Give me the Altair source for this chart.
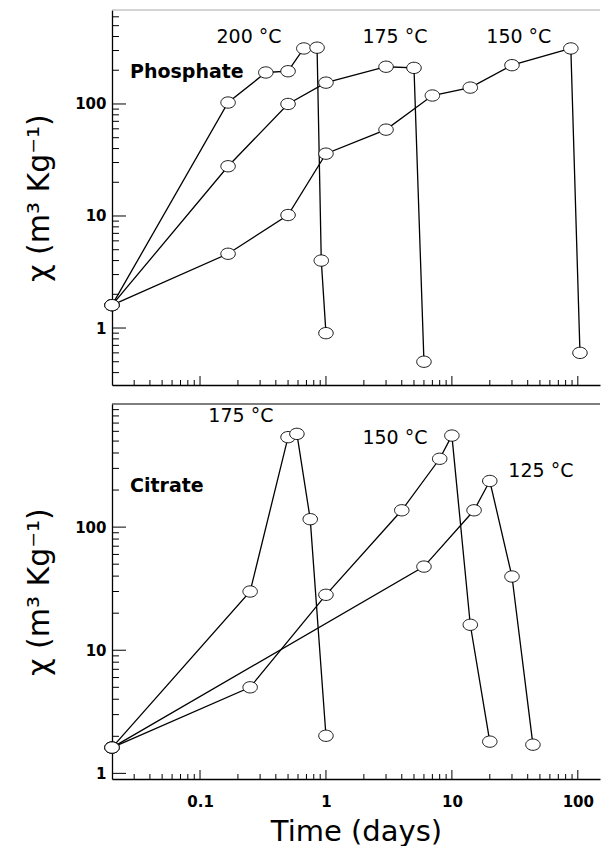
import altair as alt
import pandas as pd

# ---------------- data ----------------
# Phosphate panel
p200_t = [0.02, 0.167, 0.333, 0.5, 0.667, 0.85, 0.918, 1.0]
p200_v = [1.6, 103, 191, 196, 313, 318, 4.0, 0.90]
p175_t = [0.02, 0.167, 0.5, 1.0, 3.0, 5.0, 6.0]
p175_v = [1.6, 27.8, 100, 155, 215, 210, 0.50]
p150_t = [0.02, 0.167, 0.5, 1.0, 3.0, 7.0, 14.0, 30.0, 88.0, 104.0]
p150_v = [1.6, 4.6, 10.2, 36, 59, 119, 140, 222, 313, 0.60]

# Citrate panel
c175_t = [0.02, 0.25, 0.5, 0.588, 0.75, 1.0]
c175_v = [1.62, 30, 538, 572, 116, 2.02]
c150_t = [0.02, 0.25, 1.0, 4.0, 8.0, 10.0, 14.0, 20.0]
c150_v = [1.62, 5.0, 28.2, 137, 359, 554, 16.1, 1.81]
c125_t = [0.02, 6.0, 15.0, 20.0, 30.0, 44.0]
c125_v = [1.62, 47.8, 137, 237, 39.7, 1.71]

# annotations
p_ann_text = ["200 °C", "175 °C", "150 °C"]
p_ann_t = [0.245, 3.53, 34.0]
p_ann_v = [397, 397, 397]
c_ann_text = ["175 °C", "150 °C", "125 °C"]
c_ann_t = [0.211, 3.53, 50.9]
c_ann_v = [796, 528, 285]
p_name, p_name_t, p_name_v = "Phosphate", 0.0278, 193
c_name, c_name_t, c_name_v = "Citrate", 0.0278, 215

# axes ticks / labels
x_major = [0.1, 1, 10, 100]
x_minor = [0.03, 0.04, 0.05, 0.06, 0.07, 0.08, 0.09,
           0.2, 0.3, 0.4, 0.5, 0.6, 0.7, 0.8, 0.9,
           2, 3, 4, 5, 6, 7, 8, 9,
           20, 30, 40, 50, 60, 70, 80, 90]
y_major = [1, 10, 100]
ytop_minor = [0.4, 0.5, 0.6, 0.7, 0.8, 0.9, 2, 3, 4, 5, 6, 7, 8, 9,
              20, 30, 40, 50, 60, 70, 80, 90, 200, 300, 400, 500, 600]
ybot_minor = [2, 3, 4, 5, 6, 7, 8, 9, 20, 30, 40, 50, 60, 70, 80, 90,
              200, 300, 400, 500, 600, 700, 800, 900]

x_domain = [0.02, 150]
ytop_domain = [0.31, 690]
ybot_domain = [0.9, 1000]

# ---------------- styling ----------------
W, H = 488, 375
FONT = "DejaVu Sans"
ELLIPSE = "M-1,0A1,0.78,0,1,0,1,0A1,0.78,0,1,0,-1,0Z"
YTITLE = "χ (m³ Kg⁻¹)"


def make_panel(series, ydomain, yminor, ann_text, ann_t, ann_v,
               name, name_t, name_v, bottom, border_color):
    rows = []
    for sid, (ts, vs) in enumerate(series):
        for i, (t, v) in enumerate(zip(ts, vs)):
            rows.append({"x": t, "y": v, "s": sid, "i": i})
    df = pd.DataFrame(rows)

    xscale = alt.Scale(type="log", domain=x_domain, nice=False)
    yscale = alt.Scale(type="log", domain=ydomain, nice=False)

    xaxis = alt.Axis(values=x_major, format="~g", ticks=False, grid=False,
                     domainColor="black", domainWidth=1.3,
                     labels=bottom, labelFont=FONT, labelFontSize=15,
                     labelFontWeight="bold", labelColor="black",
                     labelPadding=15,
                     titleFont=FONT, titleFontSize=29,
                     titleFontWeight="normal", titleColor="black",
                     titlePadding=8)
    yaxis = alt.Axis(values=y_major, format="~g", ticks=False, grid=False,
                     domainColor="black", domainWidth=1.3,
                     labelFont=FONT, labelFontSize=15,
                     labelFontWeight="bold", labelColor="black",
                     labelPadding=6,
                     titleFont=FONT, titleFontSize=30,
                     titleFontWeight="normal", titleColor="black",
                     titlePadding=20)

    xtitle = "Time (days)" if bottom else None

    def X():
        return alt.X("x:Q", scale=xscale, axis=xaxis, title=xtitle)

    def Y():
        return alt.Y("y:Q", scale=yscale, axis=yaxis, title=YTITLE)

    lines = alt.Chart(df).mark_line(color="black", strokeWidth=1.3).encode(
        x=X(), y=Y(), detail="s:N", order="i:Q")
    pts = alt.Chart(df).mark_point(
        shape=ELLIPSE, size=210, filled=True, fill="white",
        stroke="black", strokeWidth=0.9, opacity=1).encode(x=X(), y=Y())

    ann = alt.Chart(pd.DataFrame({"x": ann_t, "y": ann_v, "label": ann_text})
                    ).mark_text(font=FONT, fontSize=19, color="black",
                                align="center", baseline="middle").encode(
        x=X(), y=Y(), text="label:N")
    nm = alt.Chart(pd.DataFrame({"x": [name_t], "y": [name_v], "label": [name]})
                   ).mark_text(font=FONT, fontSize=19, fontWeight="bold",
                               color="black", align="left",
                               baseline="middle").encode(
        x=X(), y=Y(), text="label:N")

    xt_major = alt.Chart(pd.DataFrame({"x": x_major})).mark_rule(
        color="black", strokeWidth=1).encode(
        x=X(), y=alt.value(H), y2=alt.value(H - 9))
    xt_minor = alt.Chart(pd.DataFrame({"x": x_minor})).mark_rule(
        color="black", strokeWidth=1).encode(
        x=X(), y=alt.value(H), y2=alt.value(H - 5))
    yt_major = alt.Chart(pd.DataFrame({"y": y_major})).mark_rule(
        color="black", strokeWidth=1).encode(
        y=Y(), x=alt.value(0), x2=alt.value(14))
    yt_minor = alt.Chart(pd.DataFrame({"y": yminor})).mark_rule(
        color="black", strokeWidth=1).encode(
        y=Y(), x=alt.value(0), x2=alt.value(7))

    border = alt.Chart(pd.DataFrame({"y": [0]})).mark_rule(
        color=border_color, strokeWidth=1.2).encode(
        x=alt.value(0), x2=alt.value(W), y=alt.value(0))

    return alt.layer(lines, xt_major, xt_minor, yt_major, yt_minor, border,
                     pts, ann, nm).properties(width=W, height=H)


top = make_panel([(p200_t, p200_v), (p175_t, p175_v), (p150_t, p150_v)],
                 ytop_domain, ytop_minor, p_ann_text, p_ann_t, p_ann_v,
                 p_name, p_name_t, p_name_v, False, "#aaaaaa")
bot = make_panel([(c175_t, c175_v), (c150_t, c150_v), (c125_t, c125_v)],
                 ybot_domain, ybot_minor, c_ann_text, c_ann_t, c_ann_v,
                 c_name, c_name_t, c_name_v, True, "black")

chart = alt.vconcat(top, bot, spacing=16).properties(
    padding={"left": 16, "top": 0, "right": 0, "bottom": 0},
    background="white",
).configure_view(stroke="transparent")

chart.save("out.html", embed_options={"renderer": "svg", "actions": False})
